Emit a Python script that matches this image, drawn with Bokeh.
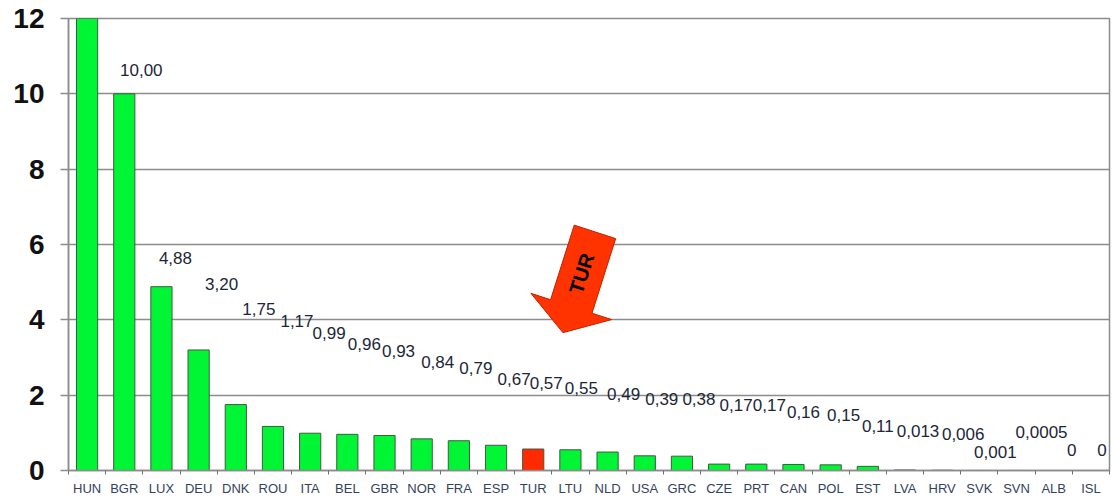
import numpy as np
from bokeh.plotting import figure
from bokeh.models import Range1d, FixedTicker, ColumnDataSource
from bokeh.core.properties import value
from bokeh.embed import file_html
from bokeh.resources import INLINE

# ---- data ----
countries = ["HUN", "BGR", "LUX", "DEU", "DNK", "ROU", "ITA", "BEL", "GBR", "NOR",
             "FRA", "ESP", "TUR", "LTU", "NLD", "USA", "GRC", "CZE", "PRT", "CAN",
             "POL", "EST", "LVA", "HRV", "SVK", "SVN", "ALB", "ISL"]
values = [13.0, 10.00, 4.88, 3.20, 1.75, 1.17, 0.99, 0.96, 0.93, 0.84,
          0.79, 0.67, 0.57, 0.55, 0.49, 0.39, 0.38, 0.17, 0.17, 0.16,
          0.15, 0.11, 0.013, 0.006, 0.001, 0.0005, 0.0, 0.0]
value_labels = ["", "10,00", "4,88", "3,20", "1,75", "1,17", "0,99", "0,96", "0,93", "0,84",
                "0,79", "0,67", "0,57", "0,55", "0,49", "0,39", "0,38", "0,17", "0,17", "0,16",
                "0,15", "0,11", "0,013", "0,006", "0,001", "0,0005", "0", "0"]
highlight = "TUR"
y_ticks = [0, 2, 4, 6, 8, 10, 12]

# label placement (layout, not data)
label_y = [14.0, 10.62, 5.63, 4.94, 4.30, 3.98, 3.64, 3.37, 3.16, 2.87,
           2.71, 2.44, 2.31, 2.18, 2.02, 1.90, 1.90, 1.75, 1.74, 1.55,
           1.48, 1.19, 1.05, 0.98, 0.50, 1.01, 0.55, 0.55]
label_dx = [0, 17, 14, 23, 23, 24, 19, 17, 14, 16,
            17, 18, 13, 11, 16, 17, 17, 17, 13, 10,
            13, 10, 13, 21, 16, 25, 18, 11]

n = len(countries)
xs = [i + 0.5 for i in range(n)]
colors = ["#ff2a00" if c == highlight else "#00f535" for c in countries]

src = ColumnDataSource(dict(x=xs, top=values, color=colors, country=countries))
lab = ColumnDataSource(dict(x=xs, y=label_y, text=value_labels, dx=label_dx))

p = figure(width=1111, height=500, output_backend="svg", toolbar_location=None,
           x_range=Range1d(0, n), y_range=Range1d(0, 12))
p.min_border_left = 68
p.min_border_right = 2
p.min_border_top = 18
p.min_border_bottom = 30
p.background_fill_color = "white"
p.border_fill_color = "white"
p.outline_line_color = "#8c8c8c"
p.outline_line_width = 1.5

p.vbar(x="x", top="top", width=0.57, source=src, fill_color="color",
       line_color="#3f5a3f", line_width=1)

p.text(x="x", y="y", text="text", x_offset="dx", source=lab,
       text_font=value("Liberation Sans"), text_font_size="17px",
       text_color="#1c2636", text_align="center", text_baseline="middle")

# ---- red arrow pointing at the highlighted bar ----
hi = countries.index(highlight)
tip = np.array([hi + 0.5 + 0.8, 3.66])
u = np.array([0.306, 0.952]); u = u / np.linalg.norm(u)
nrm = np.array([u[1], -u[0]])
L, hl, hw, bw = 2.81, 0.73, 1.14, 0.585
pts = [tip,
       tip + u * hl + nrm * hw,
       tip + u * hl + nrm * bw,
       tip + u * L + nrm * bw,
       tip + u * L - nrm * bw,
       tip + u * hl - nrm * bw,
       tip + u * hl - nrm * hw]
p.patch([q[0] for q in pts], [q[1] for q in pts], fill_color="#ff3300",
        line_color="#c02000", line_width=1)
tc = tip + u * 1.65
p.text(x=[tc[0]], y=[tc[1]], text=[highlight], angle=float(np.arctan2(u[1], u[0])),
       text_font=value("Liberation Sans"), text_font_style="bold",
       text_font_size="20px", text_color="black",
       text_align="center", text_baseline="middle")

# ---- axes ----
xa = p.xaxis[0]
xa.ticker = FixedTicker(ticks=xs, minor_ticks=list(range(0, n + 1)))
xa.major_label_overrides = {x: c for x, c in zip(xs, countries)}
xa.major_tick_out = 0
xa.major_tick_in = 0
xa.minor_tick_out = 4
xa.minor_tick_in = 0
xa.minor_tick_line_color = "#707070"
xa.axis_line_color = "#8c8c8c"
xa.axis_line_width = 1.5
xa.major_label_text_font = "Liberation Sans"
xa.major_label_text_font_size = "13px"
xa.major_label_text_color = "#34425a"
xa.major_label_standoff = 6

ya = p.yaxis[0]
ya.ticker = FixedTicker(ticks=y_ticks)
ya.major_tick_out = 8
ya.major_tick_in = 0
ya.minor_tick_line_color = None
ya.major_tick_line_color = "#8c8c8c"
ya.major_tick_line_width = 1.5
ya.axis_line_color = "#8c8c8c"
ya.axis_line_width = 1.5
ya.major_label_text_font = "Liberation Sans"
ya.major_label_text_font_style = "bold"
ya.major_label_text_font_size = "28px"
ya.major_label_text_color = "#111111"
ya.major_label_standoff = 16

p.xgrid.visible = False
p.ygrid.ticker = FixedTicker(ticks=y_ticks)
p.ygrid.grid_line_color = "#8c8c8c"
p.ygrid.grid_line_width = 1.5

open("out.html", "w").write(file_html(p, INLINE))
